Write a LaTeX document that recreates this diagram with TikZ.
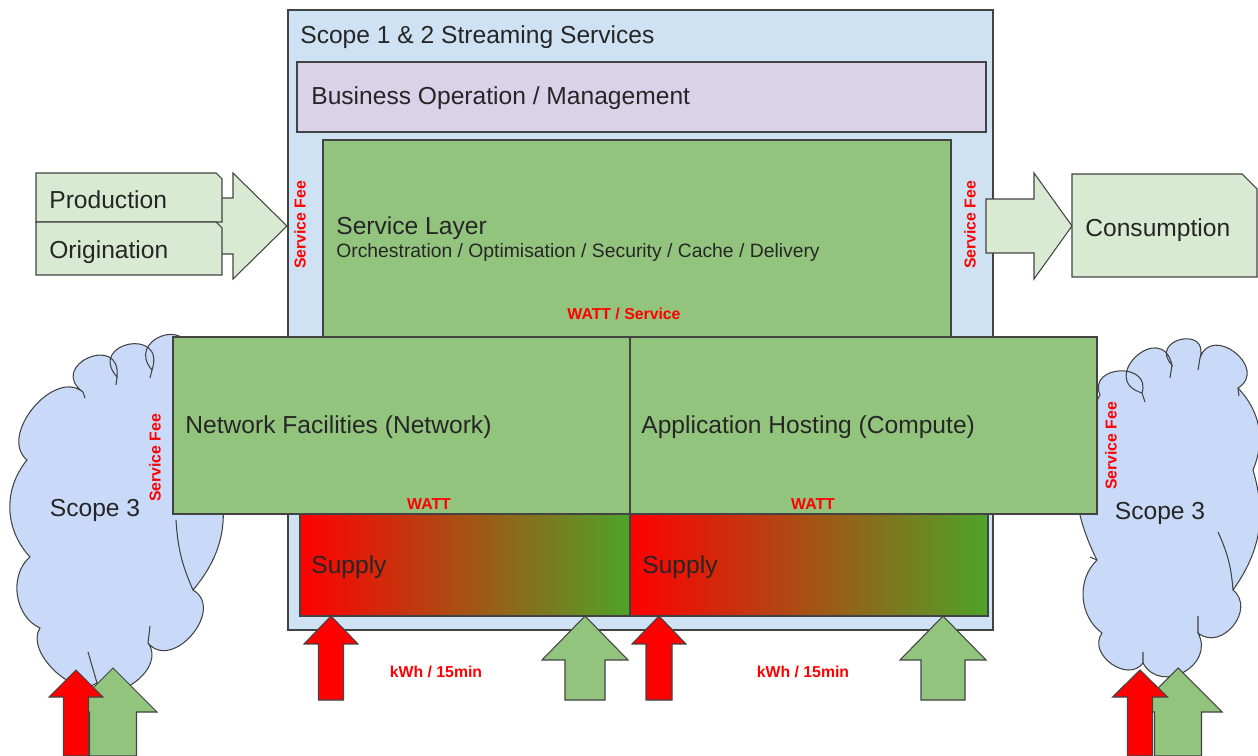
\documentclass[tikz,border=0pt]{standalone}
\usepackage{fontspec}
\setmainfont{Liberation Sans}

\definecolor{scopeblue}{HTML}{CFE2F3}
\definecolor{mgmtpurple}{HTML}{D9D2E9}
\definecolor{layergreen}{HTML}{93C47D}
\definecolor{palegreen}{HTML}{D9EAD3}
\definecolor{cloudblue}{HTML}{C9DAF8}
\definecolor{edgegray}{HTML}{434343}
\definecolor{feered}{HTML}{FF0000}
\definecolor{supplygreen}{HTML}{4EA32A}

% block arrow pointing up: [style](tip x,tip y)(head half:head base:shaft half:foot)
\def\arrowup[#1](#2,#3)(#4:#5:#6:#7){\draw[#1] (#2,#3) -- (#2+#4,#5) -- (#2+#6,#5) -- (#2+#6,#7) -- (#2-#6,#7) -- (#2-#6,#5) -- (#2-#4,#5) -- cycle;}
% block arrow pointing right: [style](tip x,tip y)(head half:head base:shaft half:tail)
\def\arrowright[#1](#2,#3)(#4:#5:#6:#7){\draw[#1] (#2,#3) -- (#5,#3-#4) -- (#5,#3-#6) -- (#7,#3-#6) -- (#7,#3+#6) -- (#5,#3+#6) -- (#5,#3+#4) -- cycle;}

\tikzset{
  edge/.style={draw=edgegray, line width=0.6pt},
  bigtext/.style={inner sep=0pt, anchor=west, font=\fontsize{14}{16}\selectfont, text=black!85},
  smalltext/.style={inner sep=0pt, anchor=west, font=\fontsize{11}{13}\selectfont, text=black!85},
  redtag/.style={inner sep=0pt, font=\fontsize{9}{10}\bfseries\selectfont, text=feered},
  scopecloud/.style={edge, fill=cloudblue},
  puff/.style={bend left=120, looseness=#1},
  supplybox/.style={edge, left color=feered, right color=supplygreen},
  redarrow/.style={edge, fill=feered},
  greenarrow/.style={edge, fill=layergreen},
}

\begin{document}
\begin{tikzpicture}[x=0.02cm, y=-0.02cm]
  \useasboundingbox (0,0) rectangle (1258,756);

  %%%%% clouds %%%%%
  \draw[scopecloud] (30,557) to[bend left=41] (27,460) to[bend left=90, looseness=1.1] (83,392)
    to[puff=3.1] (117,377) to[puff=3.3] (152,370) to[bend left=110, looseness=2.5] (190,355)
    to[bend left=30] (215,470) to[bend left=30] (193,590) to[bend left=100, looseness=1.4] (148,643)
    to[bend left=90, looseness=1.2] (97,683) to[bend left=80, looseness=0.9] (40,628) to[bend left=58] cycle;
  \draw[edge] (83,392) -- (85,398) (117,377) -- (116,385) (152,370) -- (150,378)
    (193,590) to[bend left=10] (176,520) (148,643) -- (150,626) (97,683) -- (88,652);
  \draw[scopecloud] (1102,633) to[bend left=50] (1097,560) to[bend left=28] (1100,395)
    to[bend left=110, looseness=2] (1142,393) to[puff=2.95] (1172,365) to[puff=3.1] (1200,358)
    to[bend left=110, looseness=1.95] (1238,388) to[bend left=33] (1253,470) to[bend left=26] (1233,590)
    to[bend left=90, looseness=1.4] (1198,633) to[bend left=90, looseness=1.5] (1143,663)
    to[bend left=90, looseness=1.3] cycle;
  \draw[edge] (1142,393) -- (1145,402) (1172,365) -- (1170,378) (1200,358) -- (1198,370)
    (1238,388) -- (1239,396) (1233,590) to[bend right=10] (1218,532)
    (1198,633) -- (1198,616) (1143,663) -- (1143,652) (1097,560) -- (1090,557);
  \node[bigtext, anchor=center] (scopeL) at (95,510) {Scope 3};
  \node[bigtext, anchor=center] (scopeR) at (1160,513) {Scope 3};

  %%%%% scope 1 & 2 frame %%%%%
  \draw[edge, fill=scopeblue] (288,10) rectangle (993,630);
  \node[bigtext] (scope12) at (300,37) {Scope 1 \& 2 Streaming Services};

  \draw[edge, fill=mgmtpurple] (297,62) rectangle (986,132);
  \node[bigtext] (mgmt) at (311,98) {Business Operation / Management};

  \draw[edge, fill=layergreen] (323,140) rectangle (951,337);
  \node[bigtext] (service) at (336,228) {Service Layer};
  \node[smalltext] (servicesub) at (336,253) {Orchestration / Optimisation / Security / Cache / Delivery};
  \node[redtag] (wattservice) at (624,314) {WATT / Service};

  \draw[edge, fill=layergreen] (173,337) rectangle (630,514);
  \draw[edge, fill=layergreen] (630,337) rectangle (1097,514);
  \node[bigtext] (network) at (185,427) {Network Facilities (Network)};
  \node[bigtext] (hosting) at (641,427) {Application Hosting (Compute)};
  \node[redtag] (wattL) at (429,504) {WATT};
  \node[redtag] (wattR) at (813,504) {WATT};

  \draw[supplybox] (300,514) rectangle (630,616);
  \draw[supplybox] (630,514) rectangle (988,616);
  \node[bigtext] (supplyL) at (311,567) {Supply};
  \node[bigtext] (supplyR) at (642,567) {Supply};

  %%%%% in / out flows %%%%%
  \arrowright[edge, fill=palegreen](287,226)(53:233:28:200);
  \draw[edge, fill=palegreen] (36,173) -- (216,173) -- (222,179) -- (222,222) -- (36,222) -- cycle;
  \draw[edge, fill=palegreen] (36,222) -- (216,222) -- (222,228) -- (222,275) -- (36,275) -- cycle;
  \node[bigtext] (production) at (49,200) {Production};
  \node[bigtext] (origination) at (49,252) {Origination};

  \arrowright[edge, fill=palegreen](1072,226)(53:1034:27:986);
  \draw[edge, fill=palegreen] (1072,174) -- (1242,174) -- (1257,189) -- (1257,277) -- (1072,277) -- cycle;
  \node[bigtext] (consumption) at (1085,230) {Consumption};

  \node[redtag, rotate=90] (feeIn) at (300,225) {Service Fee};
  \node[redtag, rotate=90] (feeOut) at (970,225) {Service Fee};
  \node[redtag, rotate=90] (feeNet) at (155,458) {Service Fee};
  \node[redtag, rotate=90] (feeHost) at (1111,446) {Service Fee};

  %%%%% energy arrows %%%%%
  \arrowup[redarrow](331,616)(27:644:12.5:700);
  \arrowup[greenarrow](585,616)(43:660:20:700);
  \arrowup[redarrow](659,616)(27:644:13:700);
  \arrowup[greenarrow](943,616)(43:660:22:700);
  \node[redtag] (kwhL) at (436,672) {kWh / 15min};
  \node[redtag] (kwhR) at (803,672) {kWh / 15min};

  \arrowup[greenarrow](113,668)(44:712:23.5:756);
  \arrowup[redarrow](76,670)(27:697:12.5:756);
  \arrowup[greenarrow](1178,668)(44:712:23.5:756);
  \arrowup[redarrow](1140,670)(27.5:697:12.5:756);
\end{tikzpicture}
\end{document}
